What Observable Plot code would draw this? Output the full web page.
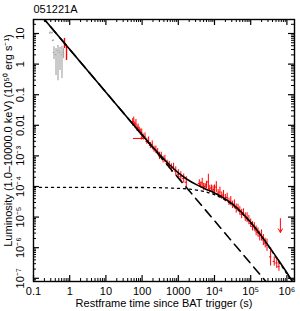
<!DOCTYPE html>
<html><head><meta charset="utf-8">
<script src="https://cdn.jsdelivr.net/npm/d3@7"></script>
<script src="https://cdn.jsdelivr.net/npm/@observablehq/plot@0.6"></script>
<style>body{margin:0;background:#fff}</style>
</head><body><div id="chart"></div>
<script>
const title = "051221A";
const xTitle = "Restframe time since BAT trigger (s)";
const yTitle = "Luminosity (1.0\u201310000.0 keV) (10\u2075\u2070 erg s\u207B\u00B9)";
const xTickValues = [0.1, 1, 10, 100, 1000, 1e4, 1e5, 1e6];
const xTickLabels = ["0.1", "1", "10", "100", "1000", "10\u2074", "10\u2075", "10\u2076"];
const yTickValues = [10, 1, 0.1, 0.01, 1e-3, 1e-4, 1e-5, 1e-6, 1e-7];
const yTickLabels = ["10", "1", "0.1", "0.01", "10\u207B\u00B3", "10\u207B\u2074", "10\u207B\u2075", "10\u207B\u2076", "10\u207B\u2077"];

// BAT (grey), log10 values
const batLogT = [-0.54, -0.485, -0.456, -0.434, -0.378, -0.323, -0.268, -0.213, -0.17];
const batLogL = [1.02, 1.02, 0.77, 0.38, 0.31, 0.44, 0.38, 0.31, 0.38];
const batLogLo = [0.99, 0.99, 0.74, 0.15, -0.37, -0.54, -0.21, -0.47, 0.18];
const batLogHi = [1.05, 1.05, 0.80, 0.57, 0.51, 0.61, 0.54, 0.58, 0.51];

// early red points
const redEarlyLogT = [-0.144, -0.088];
const redEarlyLogL = [0.67, 0.35];
const redEarlyLogLo = [0.51, 0.12];
const redEarlyLogHi = [0.84, 0.58];

// XRT (red), log10 values
const xrtLogT = [1.74,1.77,1.80,1.83,1.86,1.89,1.92,1.95,1.99,2.03,2.08,2.13,2.18,2.23,2.28,2.33,2.38,2.43,2.48,2.53,2.58,2.63,2.69,2.75,2.81,2.87,2.93,3.00,3.07,3.15,3.22,
  3.58,3.62,3.66,3.70,3.74,3.78,3.83,3.87,3.92,3.96,4.00,4.05,4.10,4.15,4.20,4.25,4.30,4.35,4.40,4.45,4.50,4.55,4.60,4.65,4.70,4.75,4.80,4.85,4.90,4.95,
  5.00,5.05,5.10,5.15,5.20,5.25,5.30,5.35,5.40,5.45,5.55,5.65,5.72,5.78];
const xrtLogL = [-1.90,-1.88,-2.00,-1.95,-2.10,-2.08,-2.15,-2.22,-2.24,-2.38,-2.36,-2.52,-2.50,-2.66,-2.62,-2.78,-2.80,-2.86,-3.00,-2.98,-3.12,-3.10,-3.24,-3.30,-3.40,-3.36,-3.50,-3.60,-3.68,-3.74,-3.86,
  -3.90,-3.95,-3.88,-4.02,-4.00,-3.95,-3.85,-4.08,-4.05,-4.12,-4.10,-4.02,-4.22,-4.18,-4.30,-4.28,-4.38,-4.36,-4.50,-4.48,-4.60,-4.58,-4.72,-4.70,-4.80,-4.90,-4.85,-5.00,-5.02,-5.10,
  -5.20,-5.30,-5.32,-5.45,-5.50,-5.62,-5.60,-5.75,-5.85,-5.92,-6.30,-6.45,-6.50,-6.62];
const xrtErr = [0.12,0.15,0.10,0.14,0.10,0.12,0.09,0.10,0.12,0.10,0.11,0.10,0.12,0.10,0.11,0.10,0.12,0.10,0.12,0.10,0.11,0.12,0.10,0.12,0.14,0.12,0.14,0.15,0.16,0.15,0.18,
  0.12,0.10,0.15,0.12,0.10,0.12,0.25,0.12,0.10,0.14,0.15,0.18,0.12,0.16,0.12,0.15,0.12,0.14,0.12,0.15,0.12,0.14,0.15,0.12,0.14,0.15,0.12,0.14,0.16,0.15,
  0.14,0.15,0.14,0.16,0.15,0.16,0.18,0.18,0.16,0.20,0.30,0.15,0.18,0.15];
// wide-bin point
const wideLogT = [1.98], wideLogT1 = [1.76], wideLogT2 = [2.12], wideLogL = [-2.43], wideErr = [0.05];
// upper limit
const ulLogT = [5.82], ulLogL = [-5.05], ulLogEnd = [-5.5];

// model curves, log10 values
const solidLogT = [-0.8, 1.0, 2.0, 2.25, 2.5, 2.75, 3.0, 3.25, 3.5, 3.75, 4.0, 4.25, 4.5, 4.75, 5.0, 5.25, 5.5, 5.75, 6.0, 6.25];
const solidLogL = [1.602, -0.918, -2.31, -2.65, -2.98, -3.28, -3.556, -3.77, -3.94, -4.08, -4.21, -4.37, -4.58, -4.85, -5.17, -5.54, -5.95, -6.38, -6.82, -7.30];
const dashLogT = [-0.8, 6.25];
const dashLogL = [1.602, -8.268];
const dotLogT = [-1, 2, 3, 3.5, 4, 4.5, 5, 5.5, 6, 6.5];
const dotLogL = [-4.03, -4.033, -4.06, -4.117, -4.267, -4.604, -5.189, -5.972, -6.857, -7.787];

const P = v => 10 ** v;
const W = 300, H = 311, mL = 33, mR = 6, mT = 19, mB = 30;
const pw = W - mL - mR, ph = H - mT - mB;
const xDom = [0.1, 10 ** 6.21], yDom = [10 ** -7.105, 10 ** 1.458];
const xMinor = [], yMinor = [];
for (let e = -1; e <= 6; e++) for (let k = 2; k <= 9; k++) { const v = k * 10 ** e; if (v < xDom[1]) xMinor.push(v); }
for (let e = -8; e <= 1; e++) for (let k = 2; k <= 9; k++) { const v = k * 10 ** e; if (v > yDom[0] && v < yDom[1]) yMinor.push(v); }

const red = "#ff0000", grey = "#a8a8a8";
const bat = batLogT.map((t, i) => ({t: P(t), L: P(batLogL[i]), lo: P(batLogLo[i]), hi: P(batLogHi[i])}));
const early = redEarlyLogT.map((t, i) => ({t: P(t), L: P(redEarlyLogL[i]), lo: P(redEarlyLogLo[i]), hi: P(redEarlyLogHi[i])}));
const xrt = xrtLogT.map((t, i) => ({t: P(t), L: P(xrtLogL[i]), lo: P(xrtLogL[i] - xrtErr[i]), hi: P(xrtLogL[i] + xrtErr[i])}));
const wide = wideLogT.map((t, i) => ({t: P(t), t1: P(wideLogT1[i]), t2: P(wideLogT2[i]), L: P(wideLogL[i]), lo: P(wideLogL[i] - wideErr[i]), hi: P(wideLogL[i] + wideErr[i])}));
const ul = ulLogT.map((t, i) => ({t: P(t), L: P(ulLogL[i]), e: P(ulLogEnd[i])}));
const solid = solidLogT.map((t, i) => ({t: P(t), L: P(solidLogL[i])}));
const dash = dashLogT.map((t, i) => ({t: P(t), L: P(dashLogL[i])}));
const dot = dotLogT.map((t, i) => ({t: P(t), L: P(dotLogL[i])}));

const font = "Liberation Sans, Arial, Helvetica, sans-serif";
const majLen = 6, minLen = 3;
const chart = Plot.plot({
  width: W, height: H, marginLeft: mL, marginRight: mR, marginTop: mT, marginBottom: mB,
  style: {fontFamily: font, background: "#fff"},
  x: {type: "log", domain: xDom, axis: null},
  y: {type: "log", domain: yDom, axis: null},
  marks: [
    // data
    Plot.ruleX(bat, {x: "t", y1: "lo", y2: "hi", stroke: grey, strokeWidth: 1.2, clip: true}),
    Plot.ruleY(bat, {y: "L", x1: d => d.t / 1.05, x2: d => d.t * 1.05, stroke: grey, strokeWidth: 1.2, clip: true}),
    Plot.ruleX(early, {x: "t", y1: "lo", y2: "hi", stroke: red, strokeWidth: 1.4, clip: true}),
    Plot.ruleX(xrt, {x: "t", y1: "lo", y2: "hi", stroke: red, strokeWidth: 1, clip: true}),
    Plot.ruleY(xrt, {y: "L", x1: d => d.t / 1.07, x2: d => d.t * 1.07, stroke: red, strokeWidth: 1, clip: true}),
    Plot.ruleX(wide, {x: "t", y1: "lo", y2: "hi", stroke: red, strokeWidth: 1}),
    Plot.ruleY(wide, {y: "L", x1: "t1", x2: "t2", stroke: red, strokeWidth: 1}),
    Plot.arrow(ul, {x1: "t", y1: "L", x2: "t", y2: "e", stroke: red, strokeWidth: 1, headLength: 6}),
    // model lines
    Plot.line(dot, {x: "t", y: "L", stroke: "black", strokeWidth: 1.3, strokeDasharray: "2,4", curve: "monotone-x", clip: true}),
    Plot.line(dash, {x: "t", y: "L", stroke: "black", strokeWidth: 1.6, strokeDasharray: "9,6", clip: true}),
    Plot.line(solid, {x: "t", y: "L", stroke: "black", strokeWidth: 1.6, curve: "monotone-x", clip: true}),
    // frame & ticks
    Plot.frame({stroke: "black", strokeWidth: 1.4}),
    Plot.tickX(xTickValues, {x: d => d, insetTop: ph - majLen, stroke: "black", strokeWidth: 1.2}),
    Plot.tickX(xTickValues, {x: d => d, insetBottom: ph - majLen, stroke: "black", strokeWidth: 1.2}),
    Plot.tickX(xMinor, {x: d => d, insetTop: ph - minLen, stroke: "black", strokeWidth: 1}),
    Plot.tickX(xMinor, {x: d => d, insetBottom: ph - minLen, stroke: "black", strokeWidth: 1}),
    Plot.tickY(yTickValues, {y: d => d, insetRight: pw - majLen, stroke: "black", strokeWidth: 1.2}),
    Plot.tickY(yTickValues, {y: d => d, insetLeft: pw - majLen, stroke: "black", strokeWidth: 1.2}),
    Plot.tickY(yMinor, {y: d => d, insetRight: pw - minLen, stroke: "black", strokeWidth: 1}),
    Plot.tickY(yMinor, {y: d => d, insetLeft: pw - minLen, stroke: "black", strokeWidth: 1}),
    // labels
    Plot.text(xTickValues, {x: d => d, y: () => yDom[0], text: (d, i) => xTickLabels[i], dy: 10, fontSize: 11, fill: "black", lineAnchor: "middle"}),
    Plot.text(yTickValues, {x: () => xDom[0], y: d => d, text: (d, i) => yTickLabels[i], dx: -13, rotate: -90, fontSize: 11, fill: "black", lineAnchor: "middle", textAnchor: "middle"}),
    Plot.text([xTitle], {frameAnchor: "bottom", dy: 22, fontSize: 11, fill: "black", lineAnchor: "middle", textAnchor: "middle"}),
    Plot.text([yTitle], {frameAnchor: "left", dx: -25, dy: -10, rotate: -90, fontSize: 11, fill: "black", lineAnchor: "middle", textAnchor: "middle"}),
    Plot.text([title], {frameAnchor: "top-left", dy: -10, textAnchor: "start", lineAnchor: "middle", fontSize: 11, fill: "black"})
  ]
});
document.getElementById("chart").appendChild(chart);
</script></body></html>
